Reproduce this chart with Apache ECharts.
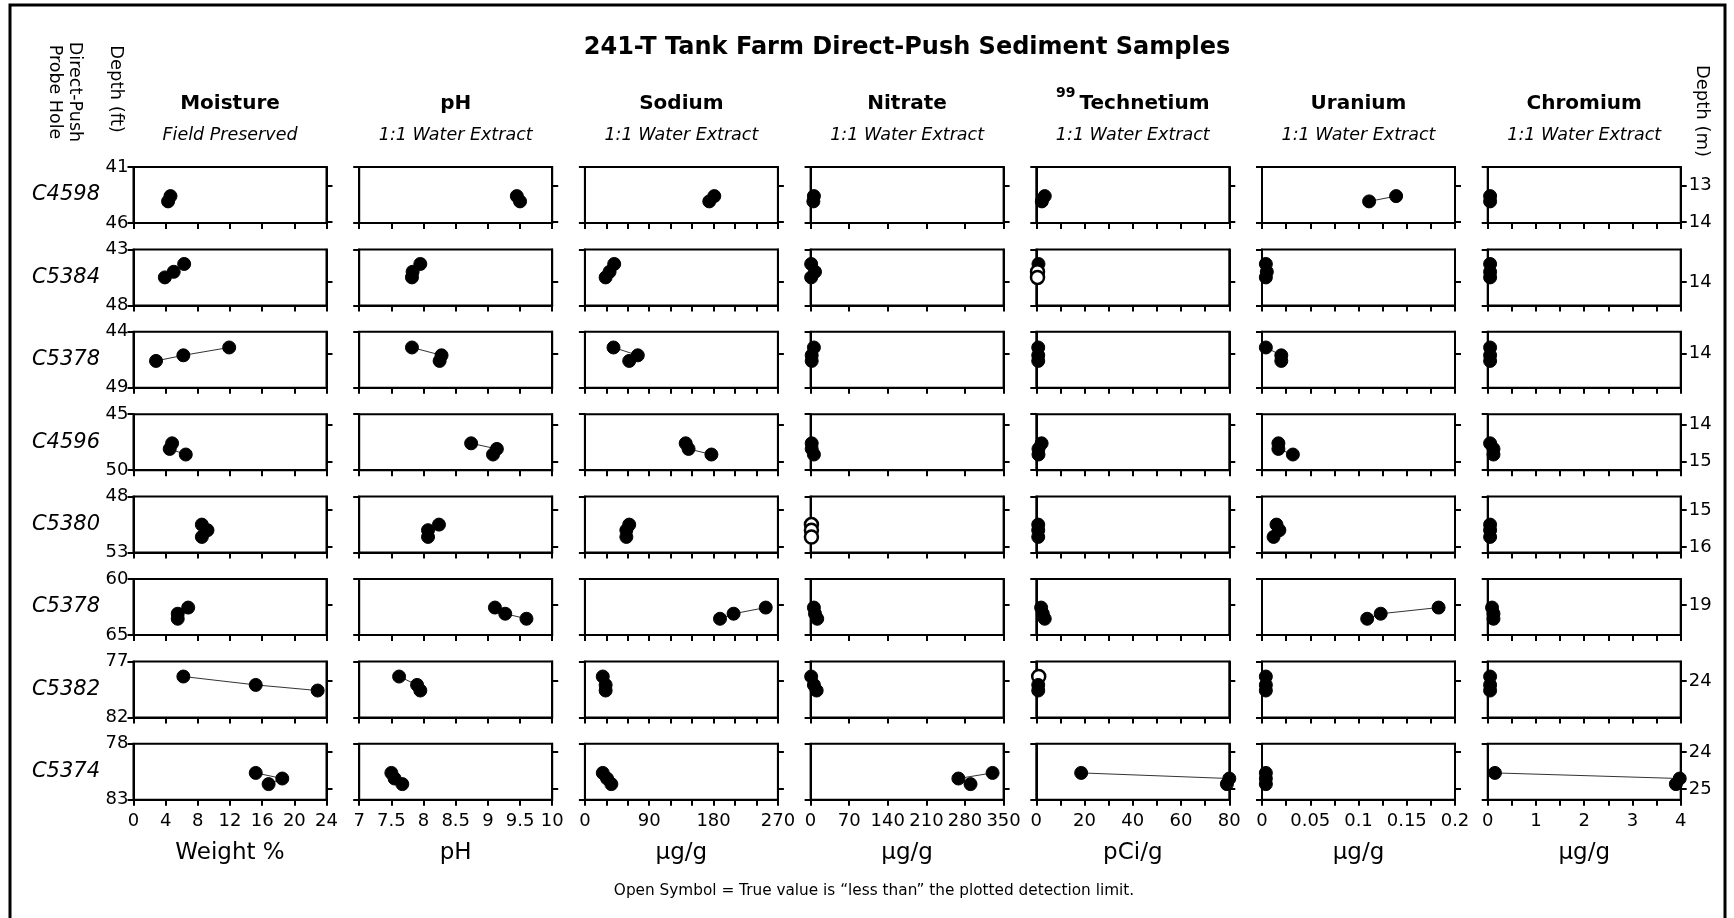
<!DOCTYPE html>
<html>
<head>
<meta charset="utf-8">
<script src="https://cdn.jsdelivr.net/npm/echarts@6/dist/echarts.min.js"></script>
<style>
  html, body { margin: 0; padding: 0; background: #fff; }
  #chart { width: 1734px; height: 918px; }
</style>
</head>
<body>
<div id="chart"></div>
<script>
// ---- Sample data: one row per direct-push probe hole ----
const holes = ['C4598', 'C5384', 'C5378', 'C4596', 'C5380', 'C5378', 'C5382', 'C5374'];
const depthMin = [41, 43, 44, 45, 48, 60, 77, 78];
const depthMax = [46, 48, 49, 50, 53, 65, 82, 83];

// sample depths (ft) in each hole
const sampleDepths = [
  [43.6, 44.07],
  [44.3, 45.0, 45.5],
  [45.4, 46.1, 46.6],
  [47.6, 48.1, 48.6],
  [50.5, 51.0, 51.6],
  [62.55, 63.1, 63.55],
  [78.35, 79.1, 79.6],
  [80.6, 81.1, 81.6]
];

const moisture = [
  [4.6, 4.3], [6.3, 5.0, 3.9], [11.9, 6.2, 2.8], [4.8, 4.5, 6.5],
  [8.5, 9.2, 8.5], [6.8, 5.5, 5.5], [6.2, 15.2, 22.9], [15.2, 18.5, 16.8]
];
const pH = [
  [9.45, 9.5], [7.95, 7.83, 7.82], [7.82, 8.28, 8.25], [8.74, 9.14, 9.08],
  [8.24, 8.07, 8.07], [9.11, 9.27, 9.6], [7.62, 7.9, 7.95], [7.5, 7.55, 7.67]
];
const sodium = [
  [181, 174], [41, 34.5, 29], [40, 74, 62], [141, 145, 177],
  [62, 58, 58], [253, 208, 189], [25, 29, 29], [25, 31, 37]
];
const nitrate = [
  [6, 5], [1, 8, 1], [6, 2, 2], [2, 2, 6],
  [1.5, 1.5, 1.5], [6, 8, 12], [1, 6, 11], [330, 268, 290]
];
const technetium = [
  [3.5, 2.3], [0.9, 0.5, 0.5], [0.8, 0.8, 0.8], [2.2, 0.9, 0.9],
  [0.8, 0.8, 0.8], [2, 2.7, 3.5], [1.0, 0.8, 0.8], [18.6, 80, 79]
];
const uranium = [
  [0.139, 0.111], [0.004, 0.005, 0.004], [0.004, 0.02, 0.02], [0.017, 0.017, 0.032],
  [0.015, 0.018, 0.012], [0.183, 0.123, 0.109], [0.004, 0.004, 0.004], [0.004, 0.004, 0.004]
];
const chromium = [
  [0.05, 0.05], [0.05, 0.05, 0.05], [0.05, 0.05, 0.05], [0.05, 0.12, 0.12],
  [0.05, 0.05, 0.05], [0.09, 0.12, 0.12], [0.05, 0.05, 0.05], [0.15, 3.98, 3.9]
];

// 1 = result below detection limit (drawn as open symbol)
const nitrateBelowLimit = [[0,0],[0,0,0],[0,0,0],[0,0,0],[1,1,1],[0,0,0],[0,0,0],[0,0,0]];
const technetiumBelowLimit = [[0,0],[0,1,1],[0,0,0],[0,0,0],[0,0,0],[0,0,0],[1,0,0],[0,0,0]];
const noFlags = sampleDepths.map(r => r.map(() => 0));

const analytes = [moisture, pH, sodium, nitrate, technetium, uranium, chromium];
const belowLimit = [noFlags, noFlags, noFlags, nitrateBelowLimit, technetiumBelowLimit, noFlags, noFlags];

const columnTitles = ['Moisture', 'pH', 'Sodium', 'Nitrate', 'Technetium', 'Uranium', 'Chromium'];
const columnSubtitles = ['Field Preserved', '1:1 Water Extract', '1:1 Water Extract', '1:1 Water Extract',
  '1:1 Water Extract', '1:1 Water Extract', '1:1 Water Extract'];
const unitLabels = ['Weight %', 'pH', 'µg/g', 'µg/g', 'pCi/g', 'µg/g', 'µg/g'];

// x scales: range, tick step and labelled step
const xMin = [0, 7, 0, 0, 0, 0, 0];
const xMax = [24, 10, 270, 350, 80, 0.2, 4];
const xTickStep = [4, 0.5, 30, 70, 10, 0.025, 0.5];
const xLabelStep = [4, 0.5, 90, 70, 20, 0.05, 1];

const FT_TO_M = 0.3048;

// ---- Layout ----
const FONT = '"DejaVu Sans", "Liberation Sans", sans-serif';
const panelLeft0 = 133.5, panelDX = 225.7, panelW = 193;
const panelTop0 = 167, panelDY = 82.4, panelH = 56;
const nRows = holes.length, nCols = columnTitles.length;

const grids = [], xAxes = [], yAxes = [], series = [], graphics = [];

for (let r = 0; r < nRows; r++) {
  // integer-metre ticks expressed in feet for the right-hand depth scale
  const meterTicks = [];
  for (let m = Math.ceil(depthMin[r] * FT_TO_M); m <= Math.floor(depthMax[r] * FT_TO_M); m++) {
    meterTicks.push(m / FT_TO_M);
  }
  for (let c = 0; c < nCols; c++) {
    const k = r * nCols + c;
    const left = panelLeft0 + c * panelDX;
    const top = panelTop0 + r * panelDY;
    grids.push({
      left: left, top: top, width: panelW, height: panelH,
      show: true, borderColor: '#000', borderWidth: 2, backgroundColor: '#fff'
    });
    const isBottom = r === nRows - 1;
    const labelStep = xLabelStep[c];
    xAxes.push({
      type: 'value', gridIndex: k, min: xMin[c], max: xMax[c], interval: xTickStep[c],
      axisLine: { show: true, onZero: false, lineStyle: { color: '#000', width: 2 } },
      axisTick: { show: true, length: 6, lineStyle: { color: '#000', width: 2 } },
      splitLine: { show: false },
      axisLabel: {
        show: isBottom, color: '#000', fontSize: 18, fontFamily: FONT, margin: 13,
        showMinLabel: true, showMaxLabel: true,
        formatter: function (v) {
          const q = (v - xMin[c]) / labelStep;
          if (Math.abs(q - Math.round(q)) > 1e-6) return '';
          return String(parseFloat(v.toFixed(4)));
        }
      }
    });
    yAxes.push({
      type: 'value', gridIndex: k, position: 'left', inverse: true,
      min: depthMin[r], max: depthMax[r], interval: 5,
      axisLine: { show: true, onZero: false, lineStyle: { color: '#000', width: 2 } },
      axisTick: { show: true, length: 6, lineStyle: { color: '#000', width: 2 } },
      splitLine: { show: false },
      axisLabel: { show: c === 0, color: '#000', fontSize: 18, fontFamily: FONT, margin: 5,
        showMinLabel: true, showMaxLabel: true }
    });
    yAxes.push({
      type: 'value', gridIndex: k, position: 'right', inverse: true,
      min: depthMin[r], max: depthMax[r],
      axisLine: { show: true, onZero: false, lineStyle: { color: '#000', width: 2 } },
      axisTick: { show: true, length: 6, customValues: meterTicks, lineStyle: { color: '#000', width: 2 } },
      splitLine: { show: false },
      axisLabel: {
        show: c === nCols - 1, customValues: meterTicks, color: '#000', fontSize: 18,
        fontFamily: FONT, margin: 8,
        formatter: v => String(Math.round(v * FT_TO_M))
      }
    });
    const vals = analytes[c][r];
    const flags = belowLimit[c][r];
    series.push({
      type: 'line', xAxisIndex: k, yAxisIndex: 2 * k,
      data: vals.map((v, i) => {
        const item = { value: [v, sampleDepths[r][i]] };
        if (flags[i]) item.itemStyle = { color: '#fff', borderColor: '#000', borderWidth: 2.5 };
        return item;
      }),
      symbol: 'circle', symbolSize: 13, showSymbol: true, showAllSymbol: true,
      lineStyle: { color: '#333', width: 1 },
      itemStyle: { color: '#000', borderColor: '#000', borderWidth: 1 },
      clip: false, silent: true, animation: false, z: 3
    });
  }
  // probe-hole label
  graphics.push({
    type: 'text', x: 66, y: panelTop0 + r * panelDY + panelH / 2,
    style: { text: holes[r], fontSize: 21, fontStyle: 'italic', fontFamily: FONT, fill: '#000',
      align: 'center', verticalAlign: 'middle' }
  });
}

// column headings and units
for (let c = 0; c < nCols; c++) {
  const cx = panelLeft0 + c * panelDX + panelW / 2;
  if (c === 4) {
    graphics.push({
      type: 'text', x: cx, y: 100,
      style: {
        text: '{s|99}{t|' + columnTitles[c] + '}', align: 'center', verticalAlign: 'middle',
        fontFamily: FONT, fill: '#000',
        rich: {
          s: { fontSize: 14, fontWeight: 'bold', fontFamily: FONT, verticalAlign: 'top', padding: [0, 4, 0, 0] },
          t: { fontSize: 20, fontWeight: 'bold', fontFamily: FONT, lineHeight: 27, verticalAlign: 'bottom' }
        }
      }
    });
  } else {
    graphics.push({
      type: 'text', x: cx, y: 104,
      style: { text: columnTitles[c], fontSize: 20, fontWeight: 'bold', fontFamily: FONT, fill: '#000',
        align: 'center', verticalAlign: 'middle' }
    });
  }
  graphics.push({
    type: 'text', x: cx, y: 135.5,
    style: { text: columnSubtitles[c], fontSize: 17.5, fontStyle: 'italic', fontFamily: FONT, fill: '#000',
      align: 'center', verticalAlign: 'middle' }
  });
  graphics.push({
    type: 'text', x: cx, y: 853,
    style: { text: unitLabels[c], fontSize: 23, fontFamily: FONT, fill: '#000',
      align: 'center', verticalAlign: 'middle' }
  });
}

// frame, title, side labels and footnote
graphics.push(
  { type: 'rect', shape: { x: 10, y: 5, width: 1715, height: 940 },
    style: { fill: null, stroke: '#000', lineWidth: 3 }, z: -1 },
  { type: 'text', x: 907, y: 47.5,
    style: { text: '241-T Tank Farm Direct-Push Sediment Samples', fontSize: 24, fontWeight: 'bold',
      fontFamily: FONT, fill: '#000', align: 'center', verticalAlign: 'middle' } },
  { type: 'text', x: 75, y: 92, rotation: -Math.PI / 2,
    style: { text: 'Direct-Push', fontSize: 17.5, fontFamily: FONT, fill: '#000',
      align: 'center', verticalAlign: 'middle' } },
  { type: 'text', x: 55, y: 92, rotation: -Math.PI / 2,
    style: { text: 'Probe Hole', fontSize: 17.5, fontFamily: FONT, fill: '#000',
      align: 'center', verticalAlign: 'middle' } },
  { type: 'text', x: 116, y: 89, rotation: -Math.PI / 2,
    style: { text: 'Depth (ft)', fontSize: 18, fontFamily: FONT, fill: '#000',
      align: 'center', verticalAlign: 'middle' } },
  { type: 'text', x: 1702, y: 111, rotation: -Math.PI / 2,
    style: { text: 'Depth (m)', fontSize: 18, fontFamily: FONT, fill: '#000',
      align: 'center', verticalAlign: 'middle' } },
  { type: 'text', x: 874, y: 891,
    style: { text: 'Open Symbol = True value is \u201cless than\u201d the plotted detection limit.',
      fontSize: 15.3, fontFamily: FONT, fill: '#000', align: 'center', verticalAlign: 'middle' } }
);

const chart = echarts.init(document.getElementById('chart'), null, { renderer: 'canvas' });
chart.setOption({
  backgroundColor: '#fff',
  animation: false,
  textStyle: { fontFamily: FONT },
  grid: grids,
  xAxis: xAxes,
  yAxis: yAxes,
  series: series,
  graphic: { elements: graphics }
});
</script>
</body>
</html>
